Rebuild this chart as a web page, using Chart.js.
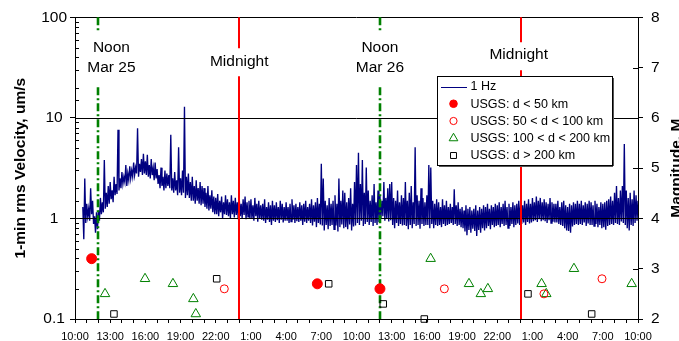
<!DOCTYPE html>
<html><head><meta charset="utf-8">
<script src="https://cdn.jsdelivr.net/npm/chart.js@4.4.1/dist/chart.umd.min.js"></script>
<style>html,body{margin:0;padding:0;background:#fff;overflow:hidden}canvas{display:block}</style>
</head><body>
<canvas id="c" width="679" height="341" style="width:679px;height:341px"></canvas>
<script>
// ---------- DATA ----------
// x = hours after 10:00 Mar 25 (local time); 48 hours shown
const timeTickLabels = ['10:00','13:00','16:00','19:00','22:00','1:00','4:00','7:00','10:00','13:00','16:00','19:00','22:00','1:00','4:00','7:00','10:00'];
const velocityTickValues = [0.1, 1, 10, 100];
const velocityTickLabels = ['0.1', '1', '10', '100'];
const magnitudeTickValues = [2, 3, 4, 5, 6, 7, 8];

// 1 Hz 1-min rms velocity (um/s): envelope read per 10-min slot (peak, trough), one row per hour
const rmsHigh = [
  null,null,null,null,1.3,2.5,
  1.4,1.25,2.0,1.5,1.05,1.15,
  1.2,1.6,1.45,3.8,1.8,2.1,
  2.3,1.9,2.6,2.2,7.6,2.5,
  2.9,2.6,3.4,2.8,3.3,3.0,
  3.6,3.2,7.9,3.5,3.9,4.4,
  3.7,4.3,3.4,3.9,3.2,3.6,
  3.1,2.7,3.2,2.6,3.0,2.8,
  2.7,6.8,2.5,2.9,2.4,5.1,
  2.5,3.0,12.9,2.6,2.8,2.3,
  2.6,2.1,2.4,2.0,2.3,2.1,
  2.0,1.8,2.1,1.7,1.9,1.65,
  1.6,1.75,1.5,1.65,1.45,1.7,
  1.55,1.45,1.7,1.5,1.6,1.45,
  1.6,1.4,1.55,1.65,1.45,1.5,
  1.55,1.35,1.6,1.4,1.5,1.35,
  1.4,1.55,1.3,1.45,1.35,1.5,
  1.35,1.45,1.3,1.5,1.4,1.3,
  1.45,1.3,1.4,1.55,1.35,1.4,
  1.3,1.45,1.35,1.4,1.5,1.3,
  1.4,1.55,1.35,1.45,1.6,1.4,
  3.5,2.5,1.5,1.35,1.6,1.4,
  1.5,1.7,1.4,2.5,1.5,1.9,
  1.8,1.45,1.6,2.0,1.4,2.3,
  3.4,4.5,2.2,3.8,1.8,3.2,
  1.9,1.5,1.7,2.2,1.45,1.9,
  1.7,1.5,2.3,1.6,2.0,2.2,
  2.3,1.6,1.5,1.9,1.45,1.7,
  1.6,2.3,1.5,1.8,2.1,1.45,
  5.1,1.7,1.5,2.0,1.6,1.45,
  1.7,3.4,3.2,1.5,1.4,1.55,
  1.45,1.3,1.55,1.35,1.5,1.3,
  1.4,1.3,1.95,1.35,1.45,1.25,
  1.3,1.2,1.35,1.25,1.3,1.2,
  1.25,1.35,1.2,1.3,1.25,1.35,
  1.3,1.4,1.25,1.35,1.3,1.4,
  1.35,1.45,1.3,1.4,1.5,1.3,
  1.4,1.3,1.45,1.35,1.4,1.5,
  1.45,1.35,1.5,1.4,1.55,1.4,
  1.6,1.45,1.65,1.5,1.6,1.45,
  1.55,1.45,1.4,1.6,1.45,1.4,
  1.4,1.5,1.3,1.45,1.5,1.35,
  1.3,1.4,1.35,1.45,1.4,1.5,
  1.4,1.5,1.35,1.45,1.4,1.5,
  1.45,1.35,1.5,1.4,1.3,1.45,
  1.4,1.45,1.5,1.55,1.65,1.5,
  1.8,2.1,1.6,1.9,2.1,5.5,
  1.9,1.6,1.8,1.55,1.9,1.7,
  1.5
];
const rmsLow = [
  null,null,null,null,0.62,0.9,
  1.05,0.95,1.1,0.88,0.72,0.78,
  0.95,1.1,1.15,1.25,1.3,1.4,
  1.55,1.45,1.7,1.75,1.9,2.0,
  2.2,2.3,2.1,2.4,2.5,2.6,
  2.7,2.8,2.6,2.9,2.7,2.8,
  2.7,2.6,2.5,2.7,2.4,2.5,
  2.2,2.0,2.1,1.9,2.0,2.1,
  2.0,1.9,1.8,1.9,1.7,1.8,
  1.7,1.8,1.6,1.7,1.6,1.5,
  1.5,1.4,1.5,1.4,1.35,1.4,
  1.3,1.25,1.2,1.25,1.15,1.1,
  1.1,1.05,1.15,1.0,1.1,1.08,
  1.05,1.0,1.1,1.02,1.08,0.98,
  1.05,1.0,1.08,0.98,1.04,1.0,
  1.0,0.95,1.05,0.93,1.0,0.97,
  0.95,0.9,0.97,0.92,0.86,0.95,
  0.92,0.96,0.9,0.97,0.91,0.95,
  0.95,0.9,0.93,0.97,0.9,0.94,
  0.92,0.95,0.86,0.93,0.9,0.95,
  0.9,0.85,0.93,0.82,0.9,0.87,
  0.85,0.76,0.86,0.78,0.84,0.86,
  0.78,0.85,0.74,0.82,0.87,0.8,
  0.82,0.78,0.87,0.76,0.83,0.85,
  0.9,0.86,0.95,0.84,0.88,0.92,
  0.86,0.92,0.84,0.9,0.86,0.92,
  1.0,1.05,0.95,1.0,0.93,0.96,
  0.86,0.8,0.9,0.84,0.88,0.85,
  0.86,0.84,0.78,0.86,0.8,0.88,
  0.84,0.86,0.79,0.88,0.84,0.86,
  0.86,0.8,0.88,0.8,0.86,0.84,
  0.86,0.82,0.88,0.84,0.86,0.88,
  0.9,0.86,0.88,0.84,0.86,0.82,
  0.8,0.74,0.68,0.77,0.72,0.79,
  0.75,0.67,0.77,0.72,0.8,0.76,
  0.8,0.84,0.78,0.86,0.82,0.84,
  0.86,0.82,0.88,0.84,0.86,0.8,
  0.84,0.88,0.82,0.86,0.89,0.86,
  0.88,0.91,0.86,0.92,0.89,0.91,
  0.94,0.96,0.92,0.98,0.94,0.96,
  0.94,0.9,0.96,0.9,0.93,0.91,
  0.91,0.88,0.86,0.84,0.8,0.76,
  0.75,0.72,0.83,0.86,0.88,0.86,
  0.88,0.86,0.91,0.84,0.89,0.86,
  0.86,0.84,0.88,0.82,0.86,0.8,
  0.82,0.77,0.84,0.86,0.88,0.86,
  0.9,0.88,0.86,0.93,0.9,0.86,
  0.8,0.76,0.86,0.84,0.9,0.95,
  null
];

// USGS events: time (hours after 10:00 Mar 25) and magnitude
const quakeNearHours = [1.42, 20.66, 26.0];
const quakeNearMags  = [3.2, 2.7, 2.6];
const quakeMidHours  = [12.73, 31.49, 39.98, 44.93];
const quakeMidMags   = [2.6, 2.6, 2.5, 2.8];
const quakeFarHours  = [2.56, 5.97, 8.35, 10.09, 10.3, 30.32, 33.59, 34.6, 35.2, 39.78, 40.18, 42.54, 47.46];
const quakeFarMags   = [2.5, 2.8, 2.7, 2.4, 2.1, 3.2, 2.7, 2.5, 2.6, 2.7, 2.5, 3.0, 2.7];
const quakeVFarHours = [3.32, 12.08, 21.63, 26.28, 29.78, 38.62, 44.05];
const quakeVFarMags  = [2.1, 2.8, 2.7, 2.3, 2.0, 2.5, 2.1];

// day markers
const markerHours  = [2, 14, 26, 38];
const markerKinds  = ['noon', 'midnight', 'noon', 'midnight'];
const markerLabels = [['Noon', 'Mar 25'], ['Midnight'], ['Noon', 'Mar 26'], ['Midnight']];

const seriesNames = ['1 Hz', 'USGS: d < 50 km', 'USGS: 50 < d < 100 km', 'USGS: 100 < d < 200 km', 'USGS: d > 200 km'];

// ---------- BUILD ----------
const FONT = '"Liberation Sans", Arial, Helvetica, sans-serif';
Chart.defaults.font.family = FONT;
Chart.defaults.color = '#000';
const STEP = 1 / 6;
const tracePoints = [];
for (let i = 0; i < rmsHigh.length; i++) {
  const t = i * STEP;
  if (rmsHigh[i] != null) tracePoints.push({ x: t, y: rmsHigh[i] });
  if (rmsLow[i] != null) tracePoints.push({ x: t + STEP / 2, y: rmsLow[i] });
}
const pts = (hs, ms) => hs.map((h, i) => ({ x: h, y: ms[i] }));
const isDecade = v => Math.abs(Math.log10(v) - Math.round(Math.log10(v))) < 1e-6;

const datasets = [
  { label: seriesNames[0], type: 'line', data: tracePoints, yAxisID: 'y', borderColor: '#000080', borderWidth: 1.35,
    pointRadius: 0, tension: 0, order: 10, legendKind: 'line' },
  { label: seriesNames[1], data: pts(quakeNearHours, quakeNearMags), yAxisID: 'y2', pointStyle: 'circle', pointRadius: 5,
    backgroundColor: '#FF0000', borderColor: '#FF0000', borderWidth: 1, clip: false, order: 0, legendR: 3.8 },
  { label: seriesNames[2], data: pts(quakeMidHours, quakeMidMags), yAxisID: 'y2', pointStyle: 'circle', pointRadius: 4,
    backgroundColor: 'rgba(0,0,0,0)', borderColor: '#FF0000', borderWidth: 1, clip: false, order: 0, legendR: 3.6 },
  { label: seriesNames[3], data: pts(quakeFarHours, quakeFarMags), yAxisID: 'y2', pointStyle: 'triangle', pointRadius: 5.5,
    backgroundColor: 'rgba(0,0,0,0)', borderColor: '#008000', borderWidth: 1, clip: false, order: 0, legendR: 5 },
  { label: seriesNames[4], data: pts(quakeVFarHours, quakeVFarMags), yAxisID: 'y2', pointStyle: 'rect', pointRadius: 4.6,
    backgroundColor: 'rgba(0,0,0,0)', borderColor: '#000000', borderWidth: 1, clip: false, order: 0, legendR: 4.2 }
];

function hline(ctx, x1, x2, y) { ctx.beginPath(); ctx.moveTo(x1, y); ctx.lineTo(x2, y); ctx.stroke(); }
function vline(ctx, x, y1, y2) { ctx.beginPath(); ctx.moveTo(x, y1); ctx.lineTo(x, y2); ctx.stroke(); }
function symbol(ctx, style, x, y, r, stroke, fill) {
  ctx.beginPath();
  if (style === 'circle') ctx.arc(x, y, r, 0, Math.PI * 2);
  else if (style === 'triangle') { ctx.moveTo(x, y - r); ctx.lineTo(x + r * 0.866, y + r * 0.5); ctx.lineTo(x - r * 0.866, y + r * 0.5); ctx.closePath(); }
  else { const s = r * 0.7071; ctx.rect(x - s, y - s, 2 * s, 2 * s); }
  if (fill && fill !== 'rgba(0,0,0,0)') { ctx.fillStyle = fill; ctx.fill(); }
  ctx.strokeStyle = stroke; ctx.lineWidth = 1; ctx.stroke();
}

const overlay = {
  id: 'overlay',
  afterDatasetDraw(chart, args) {
    if (args.index !== 0) return;
    const { ctx, chartArea: a, scales } = chart;
    const x = scales.x, y = scales.y;
    ctx.save();
    ctx.strokeStyle = '#000'; ctx.lineWidth = 1;
    velocityTickValues.forEach(v => { if (v > 0.1) hline(ctx, a.left, a.right, Math.round(y.getPixelForValue(v)) + 0.5); });
    // day markers
    markerHours.forEach((h, i) => {
      const px = Math.round(x.getPixelForValue(h));
      if (markerKinds[i] === 'noon') {
        ctx.strokeStyle = '#008000'; ctx.lineWidth = 2.6; ctx.setLineDash([8, 3, 2, 3]);
        vline(ctx, px, a.top, a.top + 13);
        vline(ctx, px, a.top + 70, a.bottom);
      } else {
        ctx.strokeStyle = '#FF0000'; ctx.lineWidth = 2; ctx.setLineDash([]);
        const g = i === 1 ? [31, 59] : [25, 53];
        vline(ctx, px, a.top, a.top + g[0]);
        vline(ctx, px, a.top + g[1], a.bottom);
      }
    });
    ctx.restore();
  },
  afterDraw(chart) {
    const { ctx, chartArea: a, scales } = chart;
    const x = scales.x, y = scales.y, y2 = scales.y2;
    ctx.save();
    ctx.strokeStyle = '#000'; ctx.lineWidth = 1; ctx.setLineDash([]);
    // minor inner ticks on log axis
    y.ticks.forEach(t => {
      if (!isDecade(t.value)) { const py = Math.round(y.getPixelForValue(t.value)) + 0.5; hline(ctx, a.left, a.left + 4, py); }
    });
    // inner part of magnitude ticks
    magnitudeTickValues.forEach(m => { const py = Math.round(y2.getPixelForValue(m)) + 0.5; hline(ctx, a.right - 5, a.right, py); });
    // marker labels
    ctx.fillStyle = '#000'; ctx.font = '15.5px ' + FONT; ctx.textAlign = 'center'; ctx.textBaseline = 'alphabetic';
    const labelShift = [13, 0, 0, -2];
    markerHours.forEach((h, i) => {
      const px = x.getPixelForValue(h) + labelShift[i];
      const lines = markerLabels[i];
      if (lines.length === 2) { ctx.fillText(lines[0], px, a.top + 35); ctx.fillText(lines[1], px, a.top + 55); }
      else ctx.fillText(lines[0], px, a.top + (i === 1 ? 48.5 : 42));
    });
    // axis titles
    ctx.font = 'bold 15.5px ' + FONT;
    const cy = (a.top + a.bottom) / 2;
    ctx.save(); ctx.translate(24.5, cy); ctx.rotate(-Math.PI / 2); ctx.fillText('1-min rms Velocity, um/s', 0, 0); ctx.restore();
    ctx.save(); ctx.translate(681, cy); ctx.rotate(-Math.PI / 2); ctx.fillText('Magnitude, M', 0, 0); ctx.restore();
    // legend
    const L = 437, T = 76, W = 175, H = 89;
    ctx.fillStyle = '#fff'; ctx.fillRect(L, T, W, H);
    ctx.strokeStyle = '#555'; ctx.lineWidth = 1;
    hline(ctx, L + 2, L + W + 1, T + H + 1.5); vline(ctx, L + W + 1.5, T + 2, T + H + 1);
    ctx.strokeStyle = '#000'; ctx.strokeRect(L + 0.5, T + 0.5, W, H);
    ctx.font = '12.5px ' + FONT; ctx.textAlign = 'left'; ctx.textBaseline = 'middle';
    chart.data.datasets.forEach((ds, i) => {
      const ry = T + 10.5 + i * 17.25;
      if (ds.legendKind === 'line') {
        ctx.strokeStyle = ds.borderColor; ctx.lineWidth = 1; hline(ctx, L + 4, L + 30, Math.round(ry) + 0.5);
      } else {
        symbol(ctx, ds.pointStyle, L + 16.5, ry, ds.legendR, ds.borderColor, ds.backgroundColor);
      }
      ctx.fillStyle = '#000'; ctx.fillText(ds.label, L + 33.5, ry + 0.5);
    });
    ctx.restore();
  }
};

new Chart(document.getElementById('c'), {
  type: 'scatter',
  data: { datasets },
  plugins: [overlay],
  options: {
    responsive: false, animation: false, devicePixelRatio: 1,
    layout: { padding: { top: 17, left: 0, right: 0, bottom: 0 } },
    plugins: { legend: { display: false }, tooltip: { enabled: false } },
    scales: {
      x: {
        type: 'linear', min: 0, max: 48,
        afterBuildTicks: s => { s.ticks = Array.from({ length: 49 }, (_, h) => ({ value: h })); },
        ticks: { autoSkip: false, maxRotation: 0, minRotation: 0, padding: 7, font: { size: 11 },
          callback: v => (v % 3 === 0 ? timeTickLabels[v / 3] : '') },
        grid: { drawOnChartArea: false, drawTicks: true, tickLength: 4, tickColor: '#000' },
        border: { display: true, color: '#000', width: 1 },
        afterFit: s => { s.height = 22; }
      },
      y: {
        type: 'logarithmic', position: 'left', min: 0.1, max: 100,
        ticks: { autoSkip: false, crossAlign: 'center', padding: 3, font: { size: 15.5 },
          callback: v => { const k = velocityTickValues.findIndex(d => Math.abs(d - v) < 1e-9); return k >= 0 ? velocityTickLabels[k] : ''; } },
        grid: { color: 'rgba(0,0,0,0)', tickLength: 5, tickColor: c => (isDecade(c.tick.value) ? '#000' : 'rgba(0,0,0,0)') },
        border: { display: true, color: '#000', width: 1 },
        afterFit: s => { s.width = 75; }
      },
      y2: {
        type: 'linear', position: 'right', min: 2, max: 8,
        afterBuildTicks: s => { s.ticks = magnitudeTickValues.map(v => ({ value: v })); },
        ticks: { padding: 8, font: { size: 15.5 }, callback: v => String(v) },
        grid: { drawOnChartArea: false, drawTicks: true, tickLength: 5, tickColor: '#000' },
        border: { display: true, color: '#000', width: 1 },
        afterFit: s => { s.width = 41; }
      }
    }
  }
});
</script></body></html>
